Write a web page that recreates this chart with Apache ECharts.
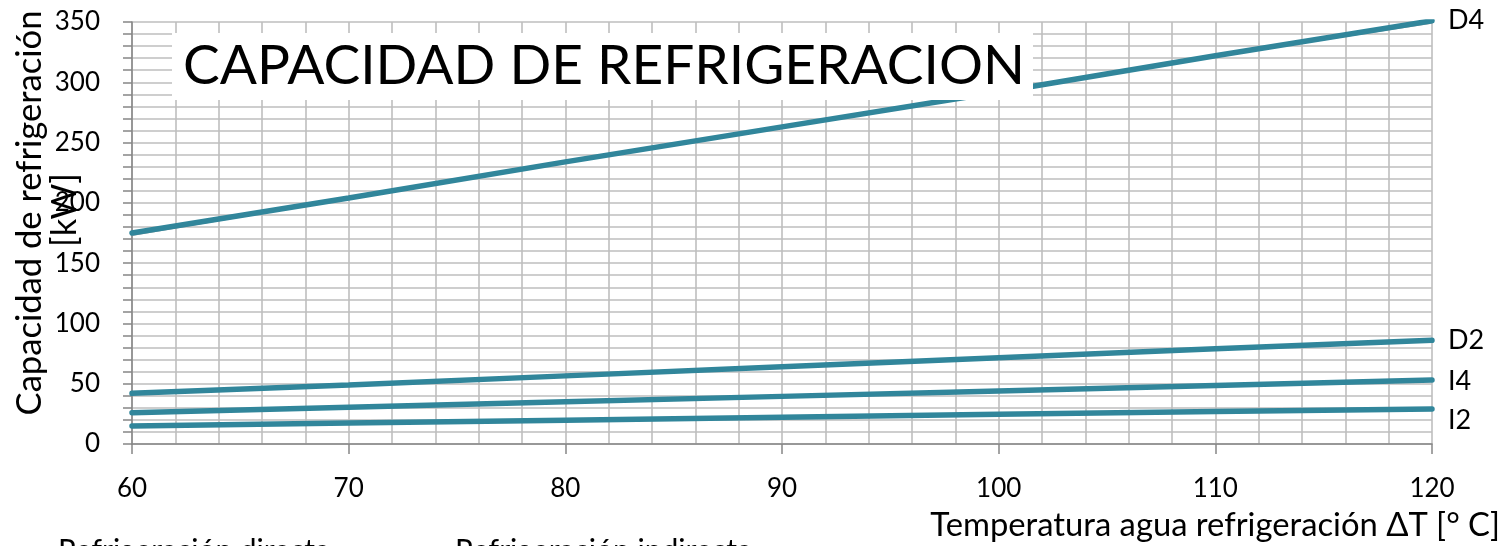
<!DOCTYPE html>
<html><head><meta charset="utf-8">
<script src="https://cdn.jsdelivr.net/npm/echarts@6/dist/echarts.min.js"></script>
<style>html,body{margin:0;padding:0;background:#fff}#c{width:1510px;height:546px}</style>
</head><body><div id="c"></div>
<script>
const temps = [60, 70, 80, 90, 100, 110, 120];
const D4 = [175, 204, 234, 263, 292, 322, 351];
const D2 = [42, 49, 56.5, 64, 71.5, 79, 86];
const I4 = [26, 30.5, 35, 39.5, 44, 48.5, 53];
const I2 = [15, 17.4, 19.8, 22.2, 24.6, 27, 29];
const D4trend = [173, 203.5, 234, 263, 292, 321.5, 349];
const D2trend = [41, 48.8, 56.5, 64, 71.5, 78.8, 85];
const I4trend = [25, 30.3, 35, 39.5, 44, 48.3, 52];
const I2trend = [14, 17.2, 19.8, 22.2, 24.6, 26.8, 28];
const seriesNames = ['D4', 'D2', 'I4', 'I2'];
const yTickLabels = [0, 50, 100, 150, 200, 250, 300, 350];
const xTickLabels = [60, 70, 80, 90, 100, 110, 120];
const titleText = 'CAPACIDAD DE REFRIGERACION';
const xName = 'Temperatura agua refrigeración ΔT [° C]';
const yName1 = 'Capacidad de refrigeración';
const yName2 = '[kW]';
const footer1 = 'Refrigeración directa';
const footer2 = 'Refrigeración indirecta';

const FONT = 'Lato, "Noto Sans", sans-serif';
const cv = document.createElement('canvas').getContext('2d');
function fit(text, target) {
  cv.font = '100px ' + FONT;
  return 100 * target / cv.measureText(text).width;
}
const teal = '#31869B';
const chart = echarts.init(document.getElementById('c'), null, {renderer: 'canvas'});
const pairs = v => temps.map((t, i) => [t, v[i]]);
const mainData = [D4, D2, I4, I2];
const trendData = [D4trend, D2trend, I4trend, I2trend];
const labelOffsets = [[0, 0], [0, 0], [0, 1], [0, 11]];
const series = [];
trendData.forEach((d, i) => series.push({
  type: 'line', data: pairs(d), showSymbol: false, silent: true, z: 2,
  lineStyle: {color: '#A6A6A6', width: 1.2}
}));
mainData.forEach((d, i) => series.push({
  type: 'line', name: seriesNames[i], data: pairs(d), showSymbol: false, z: 3,
  lineStyle: {color: teal, width: 5.5, cap: 'round'},
  endLabel: {show: true, formatter: seriesNames[i], color: '#000', fontSize: 27,
    fontFamily: FONT, distance: 16, offset: labelOffsets[i]}
}));

const titleSize = fit(titleText, 842);
const xNameSize = fit(xName, 570);
const yNameSize = fit(yName1, 405);
const f1Size = fit(footer1, 272);
const f2Size = fit(footer2, 297);

chart.setOption({
  animation: false,
  grid: {left: 132, right: 78, top: 22, bottom: 102},
  xAxis: [{
    type: 'value', min: 60, max: 120, interval: 10,
    axisLine: {show: true, lineStyle: {color: '#868686', width: 1.5}},
    axisTick: {show: true, length: 10, lineStyle: {color: '#868686', width: 1.5}},
    axisLabel: {color: '#000', fontSize: 26, fontFamily: FONT, margin: 32,
      formatter: v => xTickLabels.includes(v) ? String(v) : ''},
    splitLine: {show: false}
  }, {
    type: 'value', min: 60, max: 120, interval: 2, position: 'bottom',
    axisLine: {show: false}, axisTick: {show: false}, axisLabel: {show: false},
    splitLine: {show: true, lineStyle: {color: '#BEBEBE', width: 1.6}}
  }],
  yAxis: {
    type: 'value', min: 0, max: 350, interval: 10,
    axisLine: {show: true, lineStyle: {color: '#868686', width: 1.5}},
    axisTick: {show: true, length: 9, lineStyle: {color: '#868686', width: 1.5}},
    axisLabel: {color: '#000', fontSize: 26, fontFamily: FONT, margin: 32,
      formatter: v => yTickLabels.includes(v) ? String(v) : ''},
    splitLine: {show: true, lineStyle: {color: '#BEBEBE', width: 1.6}}
  },
  series: series,
  graphic: [
    {type: 'rect', z: 100, shape: {x: 172, y: 33, width: 861, height: 67}, style: {fill: '#fff'}},
    {type: 'text', z: 101, x: 183, y: 66, style: {text: titleText, fontSize: titleSize, fontFamily: FONT,
      fill: '#000', verticalAlign: 'middle'}},
    {type: 'text', z: 101, x: 1500, y: 525, style: {text: xName, fontSize: xNameSize, fontFamily: FONT,
      fill: '#000', align: 'right', verticalAlign: 'middle'}},
    {type: 'text', z: 101, x: 30, y: 213, rotation: Math.PI / 2, style: {text: yName1, fontSize: yNameSize,
      fontFamily: FONT, fill: '#000', align: 'center', verticalAlign: 'middle'}},
    {type: 'text', z: 101, x: 65, y: 210, rotation: Math.PI / 2, style: {text: yName2, fontSize: yNameSize,
      fontFamily: FONT, fill: '#000', align: 'center', verticalAlign: 'middle'}},
    {type: 'text', z: 101, x: 58, y: 536, style: {text: footer1, fontSize: f1Size, fontFamily: FONT, fill: '#000'}},
    {type: 'text', z: 101, x: 455, y: 536, style: {text: footer2, fontSize: f2Size, fontFamily: FONT, fill: '#000'}}
  ]
});
</script></body></html>
